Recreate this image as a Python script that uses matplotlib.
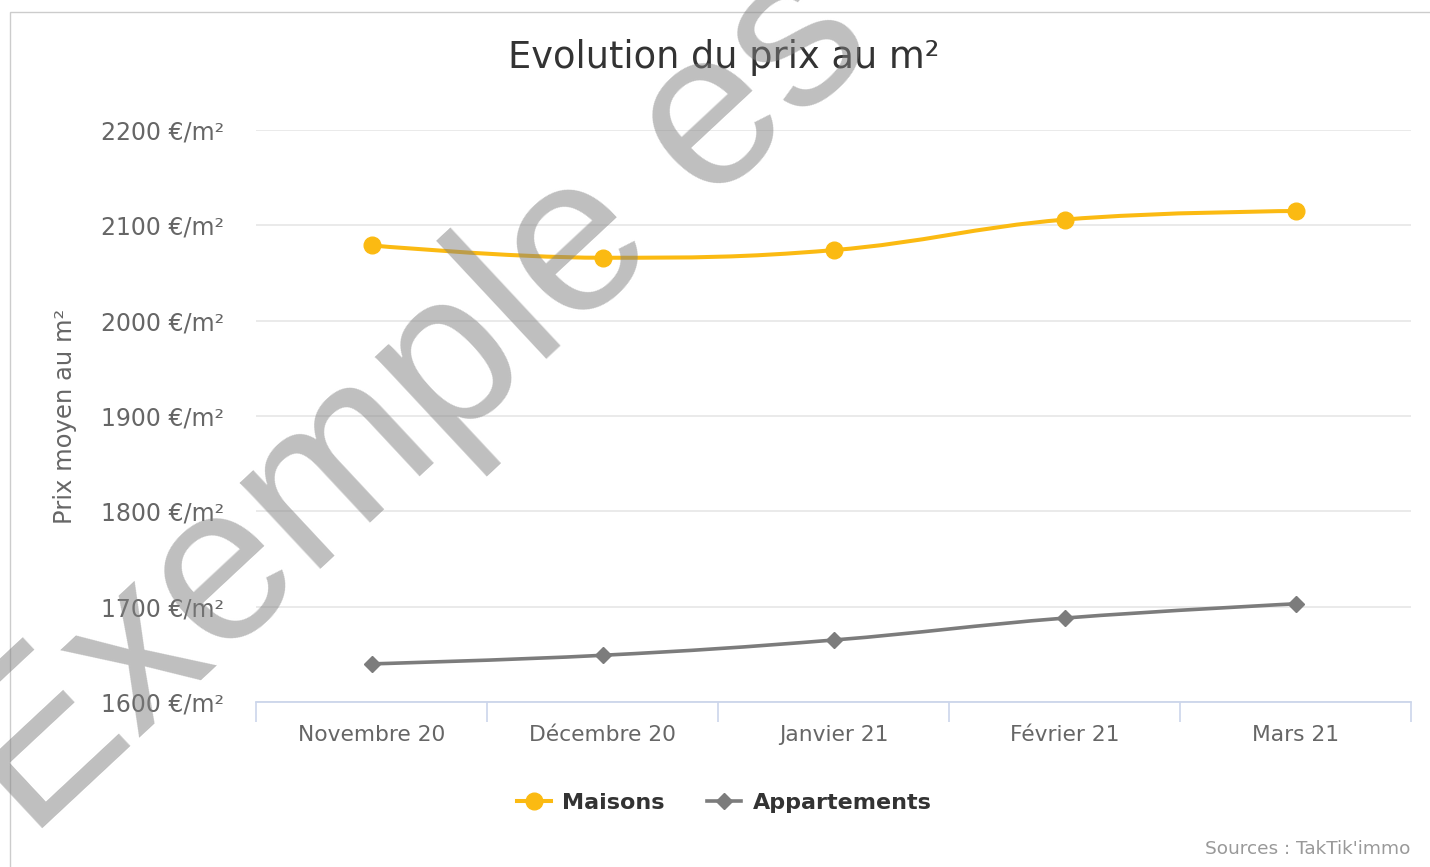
import matplotlib
matplotlib.use("Agg")
import matplotlib.pyplot as plt
from matplotlib.path import Path
from matplotlib.patches import PathPatch, Rectangle
from matplotlib.lines import Line2D
import numpy as np

mois = ["Novembre 20", "Décembre 20", "Janvier 21", "Février 21", "Mars 21"]
maisons = [2079, 2066, 2074, 2106, 2115]
appartements = [1640, 1649, 1665, 1688, 1703]
yticks = [1600, 1700, 1800, 1900, 2000, 2100, 2200]

c_maisons = "#FBBA12"
c_appart = "#7c7c7c"


def spline_path(xs, ys):
    # courbe lissée façon "spline" (points de contrôle calculés sur les données)
    s, d = 1.5, 2.5
    n = len(xs)
    lc, rc = [], []
    for i in range(n):
        x, y = xs[i], ys[i]
        if 0 < i < n - 1:
            lx, ly = xs[i - 1], ys[i - 1]
            nx, ny = xs[i + 1], ys[i + 1]
            lcx, lcy = (s * x + lx) / d, (s * y + ly) / d
            rcx, rcy = (s * x + nx) / d, (s * y + ny) / d
            corr = (rcy - lcy) * (rcx - x) / (rcx - lcx) + y - rcy
            lcy += corr
            rcy += corr
            if lcy > ly and lcy > y:
                lcy = max(ly, y); rcy = 2 * y - lcy
            elif lcy < ly and lcy < y:
                lcy = min(ly, y); rcy = 2 * y - lcy
            if rcy > ny and rcy > y:
                rcy = max(ny, y); lcy = 2 * y - rcy
            elif rcy < ny and rcy < y:
                rcy = min(ny, y); lcy = 2 * y - rcy
            lc.append((lcx, lcy)); rc.append((rcx, rcy))
        else:
            lc.append((x, y)); rc.append((x, y))
    verts = [(xs[0], ys[0])]
    codes = [Path.MOVETO]
    for i in range(1, n):
        verts += [rc[i - 1], lc[i], (xs[i], ys[i])]
        codes += [Path.CURVE4] * 3
    return Path(verts, codes)


plt.rcParams["font.family"] = ["DejaVu Sans"]
fig = plt.figure(figsize=(14.3, 8.67), dpi=100)
W, H = 1430, 867
ax = fig.add_axes([256 / W, 1 - 702 / H, (1411 - 256) / W, (702 - 130) / H])

x = np.arange(len(mois))
ax.add_patch(PathPatch(spline_path(x, maisons), fill=False, edgecolor=c_maisons,
                       lw=2.9, capstyle="round", zorder=3))
ax.plot(x, maisons, ls="none", marker="o", ms=12, color=c_maisons, zorder=4)
ax.add_patch(PathPatch(spline_path(x, appartements), fill=False, edgecolor=c_appart,
                       lw=2.6, capstyle="round", zorder=3))
ax.plot(x, appartements, ls="none", marker="D", ms=8.5, color=c_appart, zorder=4)

ax.set_xlim(-0.5, len(mois) - 0.5)
ax.set_ylim(1600, 2200)
ax.set_yticks(yticks)
ax.set_yticklabels([f"{v} €/m²" for v in yticks])
ax.set_xticks(x)
ax.set_xticklabels(mois)
ax.set_xticks(np.arange(-0.5, len(mois), 1), minor=True)
ax.tick_params(axis="x", which="major", length=0, pad=16.5, labelsize=15.7, labelcolor="#666666")
ax.tick_params(axis="x", which="minor", length=14.5, width=1.2, color="#ccd6eb", direction="out")
ax.tick_params(axis="y", length=0, pad=23, labelsize=17, labelcolor="#666666")
ax.grid(axis="y", color="#e6e6e6", lw=1.2)
ax.set_axisbelow(True)
for sp in ["top", "right", "left"]:
    ax.spines[sp].set_visible(False)
ax.spines["bottom"].set_color("#ccd6eb")
ax.spines["bottom"].set_linewidth(1.3)
ax.spines["bottom"].set_zorder(2)

fig.text(65 / W, 1 - 416 / H, "Prix moyen au m²", rotation=90, ha="center", va="center",
         fontsize=17.5, color="#666666")
fig.text(724 / W, 1 - 57 / H, "Evolution du prix au m²", ha="center", va="center",
         fontsize=26.5, color="#333333")
fig.text(1410 / W, 1 - 849 / H, "Sources : TakTik'immo", ha="right", va="center",
         fontsize=13.3, color="#999999")

handles = [Line2D([], [], color=c_maisons, lw=2.9, marker="o", ms=12),
           Line2D([], [], color=c_appart, lw=2.6, marker="D", ms=8.5)]
fig.legend(handles, ["Maisons", "Appartements"], loc="center", ncol=2,
           bbox_to_anchor=(724 / W, 1 - 803 / H), frameon=False,
           prop={"size": 16, "weight": "bold"}, labelcolor="#333333",
           handlelength=1.55, handletextpad=0.5, columnspacing=1.9)

# cadre du graphique
fig.add_artist(Rectangle((10 / W, -0.05), 1.1, 1 - 12 / H + 0.05, transform=fig.transFigure,
                         fill=False, edgecolor="#cccccc", lw=1.0))

# filigrane
fig.text(30 / W, 1 - 840 / H, "Exemple es", rotation=43, rotation_mode="anchor",
         ha="left", va="baseline", fontsize=160, color="#808080", alpha=0.5,
         family="Liberation Sans", zorder=10)

fig.savefig("out.png", dpi=100)
